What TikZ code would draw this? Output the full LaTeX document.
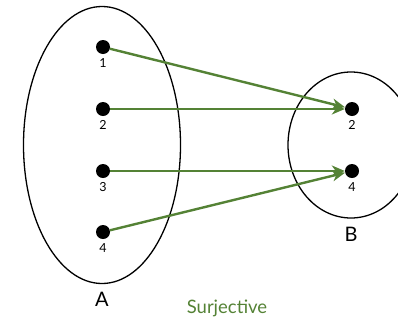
\documentclass[tikz,border=0pt]{standalone}
\usepackage{fontspec}
\setmainfont{Lato}
\usepackage{tikz}
\usetikzlibrary{positioning, arrows.meta, shapes.geometric}
\definecolor{mapgreen}{RGB}{84,130,53}

\begin{document}
\begin{tikzpicture}[x=1pt, y=1pt,
    set/.style={ellipse, draw, line width=1.3pt, inner sep=0pt},
    dot/.style={circle, fill=black, inner sep=0pt, minimum size=14pt, label={[font=\fontsize{12.5}{13}\selectfont, inner sep=1pt, yshift=-3pt]below:#1}},
    map/.style={draw=mapgreen, line width=2.4pt, -{Stealth[length=13pt, width=11pt, inset=4pt]}}]
    \useasboundingbox (0,0) rectangle (398,-322);
    \node[set, minimum width=157pt, minimum height=277pt] (setA) at (102,-145) {};
    \node[set, minimum width=126pt, minimum height=146pt] (setB) at (351,-145) {};
    \node[font=\fontsize{20}{22}\selectfont, below=4pt of setA] (labA) {A};
    \node[font=\fontsize{20}{22}\selectfont, below=5pt of setB] (labB) {B};
    \node[dot=1] (a1) at (103,-47) {};
    \node[dot=2] (a2) at (103,-109) {};
    \node[dot=3] (a3) at (103,-171) {};
    \node[dot=4] (a4) at (103,-232) {};
    \node[dot=2] (b2) at (352,-109) {};
    \node[dot=4] (b4) at (352,-171) {};
    \draw[map] (a1) -- (b2);
    \draw[map] (a2) -- (b2);
    \draw[map] (a3) -- (b4);
    \draw[map] (a4) -- (b4);
    \node[text=mapgreen, font=\fontsize{18.5}{20}\selectfont] (title) at (227,-308) {Surjective};
\end{tikzpicture}
\end{document}
